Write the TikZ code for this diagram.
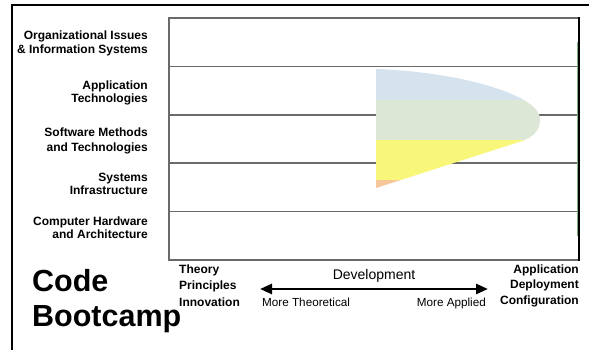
\documentclass[tikz,border=0pt]{standalone}
\usepackage{fontspec}
\setmainfont{Liberation Sans}
\usetikzlibrary{arrows.meta}
\definecolor{bandblue}{HTML}{D5E3EE}
\definecolor{bandgreen}{HTML}{DCE7D5}
\definecolor{bandyellow}{HTML}{F8F77A}
\definecolor{bandorange}{HTML}{F6C79A}
\definecolor{gridgray}{HTML}{6A6A6A}
\definecolor{edgegreen}{HTML}{7FB07F}
\begin{document}
\begin{tikzpicture}[x=1pt,y=-1pt,
  rowlab/.style={font=\fontsize{12}{14}\selectfont\bfseries, anchor=base east, inner sep=0pt},
  botlab/.style={font=\fontsize{12}{14}\selectfont\bfseries, inner sep=0pt},
  axlab/.style={font=\fontsize{11.7}{14}\selectfont, inner sep=0pt},
  biglab/.style={font=\fontsize{30.5}{34}\selectfont\bfseries, anchor=base west, inner sep=0pt},
  grid/.style={draw=gridgray, line width=1.6pt},
  frame/.style={draw=black, line width=2.5pt}]
\useasboundingbox (0,0) rectangle (589,350);
\fill[white] (0,0) rectangle (589,350);
% outer frame
\draw[frame] (12,352) -- (12,5) -- (592,5);
% chart box
\draw[grid] (579,18) -- (169,18) -- (169,260) -- (579,260);
\draw[draw=black, line width=1.3pt] (579,17.5) -- (579,260.5);
\foreach \yy in {66.4,114.8,163.2,211.6} \draw[grid] (169,\yy) -- (577,\yy);
% shape
\begin{scope}
  \clip (376,69) .. controls (460,72) and (540,95) .. (540,119)
        .. controls (540,131) and (533,137) .. (522,141)
        -- (376,188) -- cycle;
  \fill[bandblue] (370,60) rectangle (550,100);
  \fill[bandgreen] (370,100) rectangle (550,140);
  \fill[bandyellow] (370,140) rectangle (550,180);
  \fill[bandorange] (370,180) rectangle (550,195);
\end{scope}
\draw[edgegreen, line width=0.8pt] (577,42) -- (577,236);
% row labels
\node[rowlab] (r1a) at (148,40) {Organizational Issues};
\node[rowlab] (r1b) at (148,53.5) {\& Information Systems};
\node[rowlab] (r2a) at (148,89.5) {Application};
\node[rowlab] (r2b) at (148,102.5) {Technologies};
\node[rowlab] (r3a) at (148,137) {Software Methods};
\node[rowlab] (r3b) at (148,151) {and Technologies};
\node[rowlab] (r4a) at (148,181) {Systems};
\node[rowlab] (r4b) at (148,194.5) {Infrastructure};
\node[rowlab] (r5a) at (148,225) {Computer Hardware};
\node[rowlab] (r5b) at (148,238.5) {and Architecture};
% title
\node[biglab] (code) at (32,291) {Code};
\node[biglab] (boot) at (32,326) {Bootcamp};
% bottom left
\node[botlab, anchor=base west] (th) at (179,273) {Theory};
\node[botlab, anchor=base west] (pr) at (179,289.5) {Principles};
\node[botlab, anchor=base west] (in) at (179,306) {Innovation};
% bottom right
\node[botlab, anchor=base east] (ap) at (579,273) {Application};
\node[botlab, anchor=base east] (de) at (579,288.5) {Deployment};
\node[botlab, anchor=base east] (co) at (579,304) {Configuration};
% axis
\node[font=\fontsize{14}{16}\selectfont, anchor=base, inner sep=0pt] (dev) at (374,279) {Development};
\coordinate (aL) at (260,289);
\coordinate (aR) at (488,289);
\draw[line width=2.6pt, {Triangle[length=12pt,width=10pt]}-{Triangle[length=12pt,width=10pt]}] (aL) -- (aR);
\node[axlab, anchor=base west] (mt) at (262,306) {More Theoretical};
\node[axlab, anchor=base east] (ma) at (486,306) {More Applied};
\end{tikzpicture}
\end{document}
